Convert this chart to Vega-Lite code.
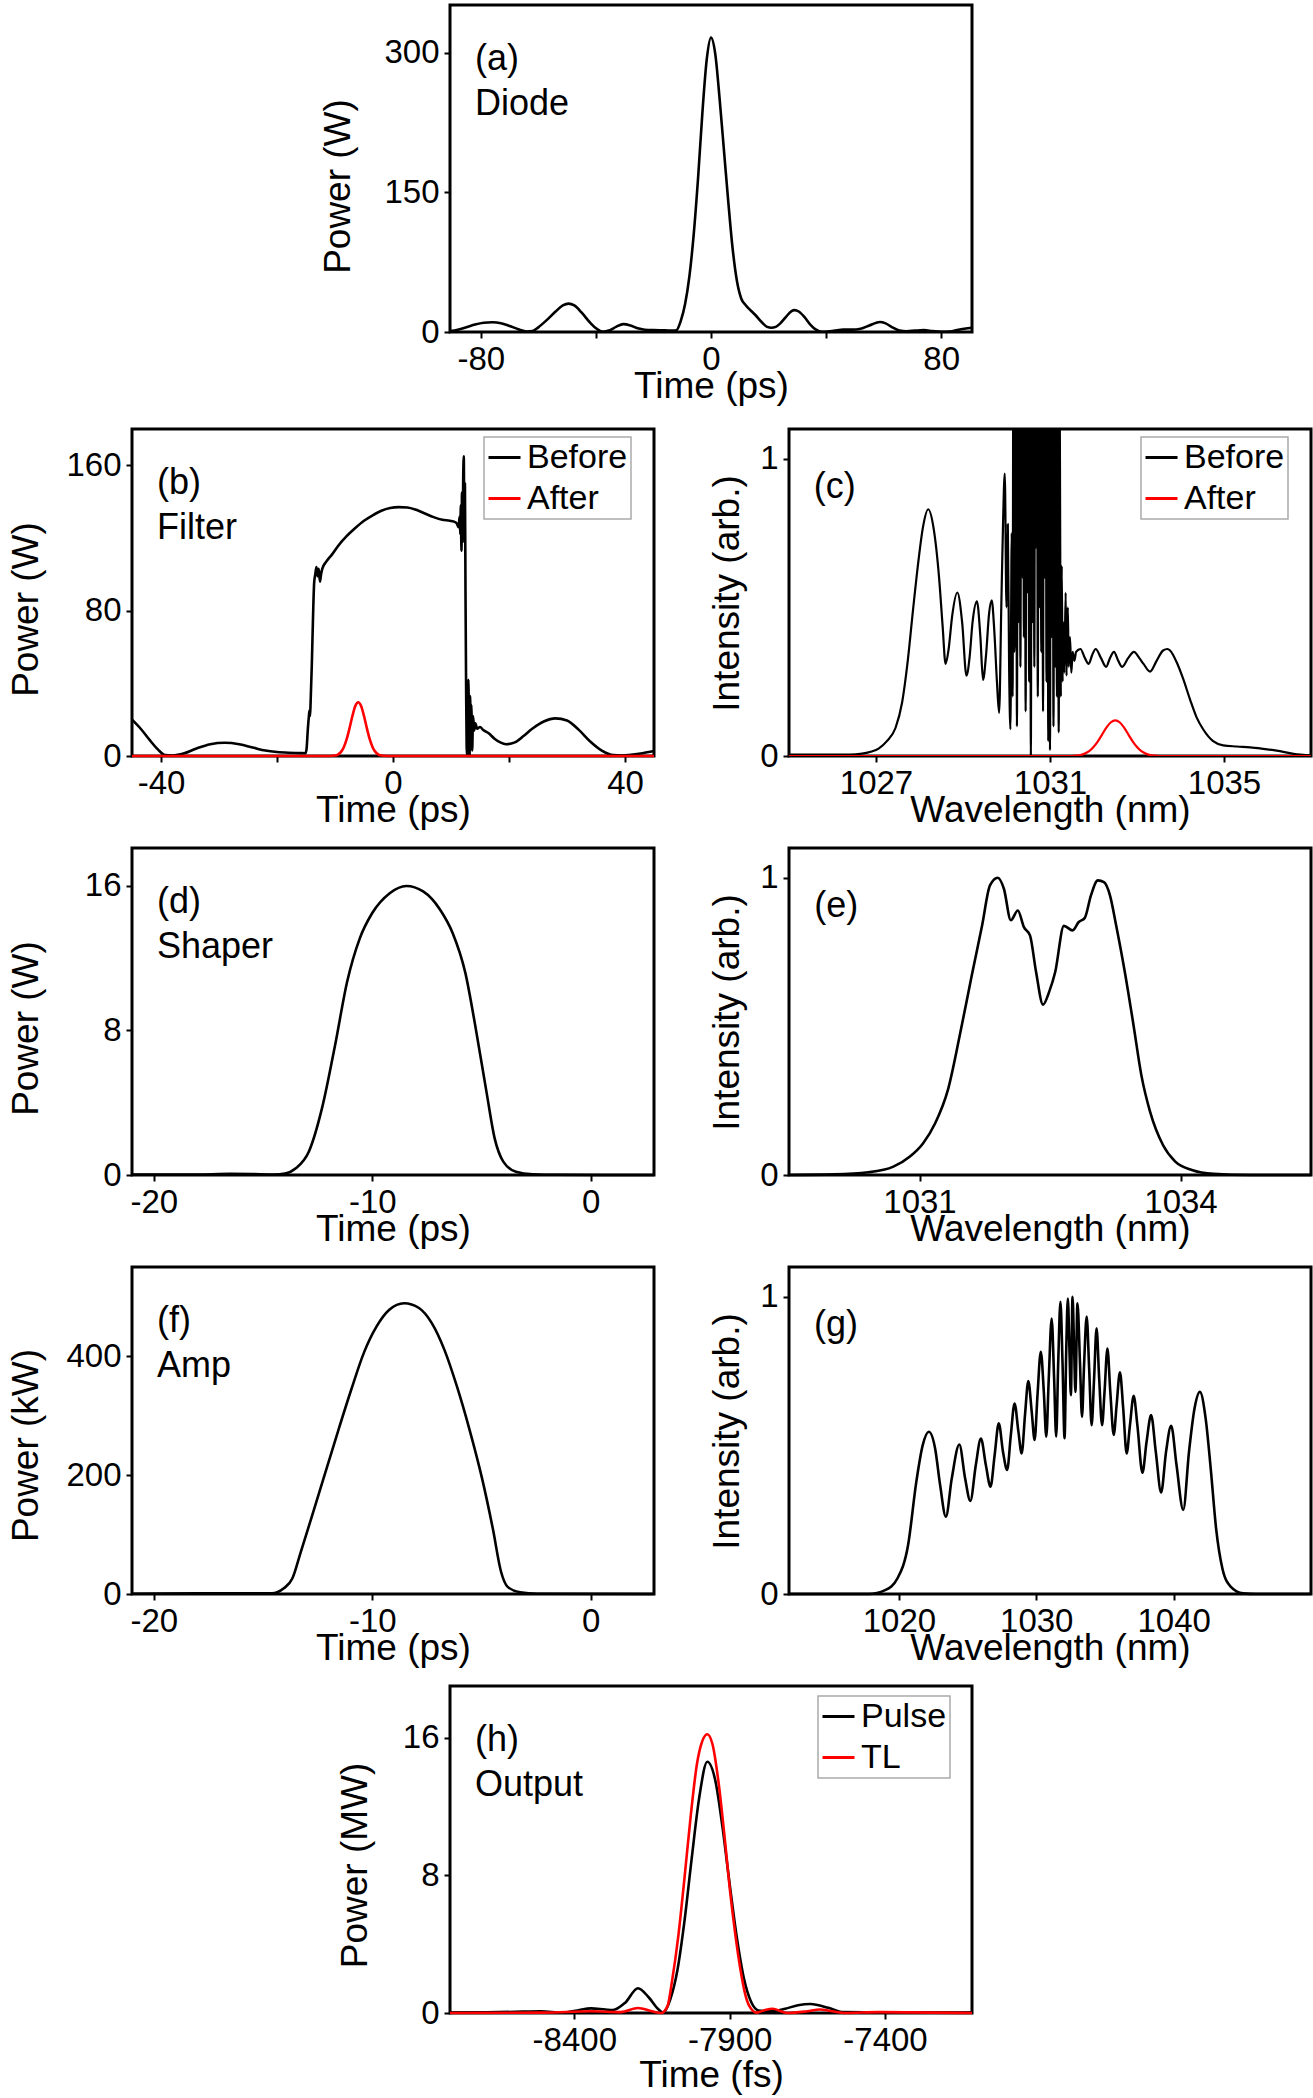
{
  "$schema": "https://vega.github.io/schema/vega-lite/v6.json",
  "background": "white",
  "padding": {"left": 5, "top": 3, "right": 2, "bottom": 0},
  "config": {
    "font": "Liberation Sans",
    "view": {"stroke": "black", "strokeWidth": 3},
    "line": {"strokeJoin": "round"},
    "axis": {
      "grid": false, "domain": false, "tickSize": 6, "tickWidth": 2, "tickColor": "black",
      "labelFont": "Liberation Sans", "labelFontSize": 33, "labelColor": "black",
      "titleFont": "Liberation Sans", "titleFontSize": 37, "titleFontWeight": "normal", "titleColor": "black",
      "labelFlush": false, "labelOverlap": false, "labelBound": false
    },
    "axisX": {"labelPadding": 5, "labelBaseline": "top", "titleBaseline": "top"},
    "axisY": {"labelPadding": 5, "titleAngle": 270, "titleAlign": "center", "titleBaseline": "bottom"},
    "legend": {
      "orient": "none", "symbolType": "stroke", "symbolSize": 1024, "symbolStrokeWidth": 3,
      "labelFont": "Liberation Sans", "labelFontSize": 34, "labelColor": "black", "labelLimit": 0,
      "labelOffset": 5, "symbolOffset": 0, "padding": 3, "rowPadding": 6,
      "strokeColor": "#aaaaaa", "strokeWidth": 1.5, "fillColor": "white"
    }
  },
  "datasets": {
    "diode": [
      {"t": -90.7, "p": 1}, {"t": -88, "p": 2.5}, {"t": -85, "p": 5}, {"t": -82, "p": 8}, {"t": -79, "p": 10},
      {"t": -76, "p": 10.5}, {"t": -73, "p": 9.5}, {"t": -70, "p": 6.5}, {"t": -67, "p": 3}, {"t": -64, "p": 0.5},
      {"t": -62, "p": 1}, {"t": -60, "p": 5}, {"t": -57, "p": 13}, {"t": -54, "p": 22}, {"t": -51.5, "p": 28.5},
      {"t": -49.5, "p": 30.5}, {"t": -47.5, "p": 28.5}, {"t": -45, "p": 21}, {"t": -42, "p": 10}, {"t": -39.5, "p": 3},
      {"t": -37.5, "p": 0.3}, {"t": -35.5, "p": 1.5}, {"t": -33, "p": 5.5}, {"t": -30.5, "p": 8.5}, {"t": -28, "p": 7},
      {"t": -25.5, "p": 4}, {"t": -23, "p": 2.5}, {"t": -20, "p": 2}, {"t": -16, "p": 1.8}, {"t": -13, "p": 1.5},
      {"t": -12, "p": 2}, {"t": -10.5, "p": 12}, {"t": -9, "p": 30}, {"t": -7.5, "p": 60}, {"t": -6, "p": 105},
      {"t": -4.5, "p": 165}, {"t": -3, "p": 235}, {"t": -1.5, "p": 292}, {"t": 0, "p": 316}, {"t": 1.5, "p": 298},
      {"t": 3, "p": 250}, {"t": 4.5, "p": 195}, {"t": 6, "p": 140}, {"t": 7.5, "p": 90}, {"t": 9, "p": 55},
      {"t": 10.5, "p": 36}, {"t": 12, "p": 29}, {"t": 13.5, "p": 24}, {"t": 15.5, "p": 18}, {"t": 17.5, "p": 11},
      {"t": 19.5, "p": 5.5}, {"t": 21, "p": 4.5}, {"t": 22.5, "p": 5.5}, {"t": 24, "p": 9}, {"t": 26, "p": 16},
      {"t": 28, "p": 22.5}, {"t": 29, "p": 23.5}, {"t": 30.5, "p": 22}, {"t": 32.5, "p": 16}, {"t": 34.5, "p": 8},
      {"t": 36.5, "p": 2.5}, {"t": 38.5, "p": 0.3}, {"t": 40.5, "p": 0.5}, {"t": 43, "p": 1.5}, {"t": 46, "p": 2.5},
      {"t": 49, "p": 2.5}, {"t": 52, "p": 3.5}, {"t": 55, "p": 7}, {"t": 57.5, "p": 10}, {"t": 58.7, "p": 10.7},
      {"t": 60.5, "p": 9.5}, {"t": 63, "p": 5}, {"t": 65.5, "p": 1.5}, {"t": 68, "p": 0.8}, {"t": 71, "p": 1.5},
      {"t": 74, "p": 2}, {"t": 77, "p": 1}, {"t": 80, "p": 0.2}, {"t": 83, "p": 0.5}, {"t": 86, "p": 2.5}, {"t": 90.7, "p": 4.5}
    ],
    "filter_time": [
      {"series": "Before", "t": -45, "p": 20}, {"series": "Before", "t": -43.5, "p": 15}, {"series": "Before", "t": -42, "p": 9},
      {"series": "Before", "t": -40.5, "p": 3.5}, {"series": "Before", "t": -39.3, "p": 0.5}, {"series": "Before", "t": -38, "p": 0.3},
      {"series": "Before", "t": -36, "p": 1.5}, {"series": "Before", "t": -34, "p": 4}, {"series": "Before", "t": -31.5, "p": 6.5},
      {"series": "Before", "t": -29, "p": 7.3}, {"series": "Before", "t": -26.5, "p": 6.5}, {"series": "Before", "t": -24, "p": 4.5},
      {"series": "Before", "t": -22, "p": 3}, {"series": "Before", "t": -20, "p": 2.2}, {"series": "Before", "t": -18, "p": 1.8},
      {"series": "Before", "t": -16, "p": 1.6}, {"series": "Before", "t": -15.1, "p": 1.5}, {"series": "Before", "t": -14.9, "p": 4},
      {"series": "Before", "t": -14.7, "p": 14}, {"series": "Before", "t": -14.5, "p": 22}, {"series": "Before", "t": -14.4, "p": 25},
      {"series": "Before", "t": -14.3, "p": 22}, {"series": "Before", "t": -14.2, "p": 30}, {"series": "Before", "t": -14.0, "p": 50},
      {"series": "Before", "t": -13.8, "p": 75}, {"series": "Before", "t": -13.6, "p": 95}, {"series": "Before", "t": -13.4, "p": 100},
      {"series": "Before", "t": -13.2, "p": 104}, {"series": "Before", "t": -13.0, "p": 99}, {"series": "Before", "t": -12.8, "p": 103},
      {"series": "Before", "t": -12.6, "p": 96}, {"series": "Before", "t": -12.4, "p": 100}, {"series": "Before", "t": -12.2, "p": 103},
      {"series": "Before", "t": -11.5, "p": 107}, {"series": "Before", "t": -10.5, "p": 111}, {"series": "Before", "t": -9.5, "p": 115.5},
      {"series": "Before", "t": -8, "p": 121}, {"series": "Before", "t": -6.5, "p": 125.5}, {"series": "Before", "t": -5, "p": 129.5},
      {"series": "Before", "t": -3.5, "p": 132.5}, {"series": "Before", "t": -2, "p": 135}, {"series": "Before", "t": -0.5, "p": 136.5},
      {"series": "Before", "t": 1, "p": 137}, {"series": "Before", "t": 2.5, "p": 136.8}, {"series": "Before", "t": 4, "p": 135.5},
      {"series": "Before", "t": 5.5, "p": 133.5}, {"series": "Before", "t": 7, "p": 131.5}, {"series": "Before", "t": 8.5, "p": 130},
      {"series": "Before", "t": 9.8, "p": 129.5}, {"series": "Before", "t": 10.5, "p": 129}, {"series": "Before", "t": 11.0, "p": 128},
      {"series": "Before", "t": 11.3, "p": 126}, {"series": "Before", "t": 11.5, "p": 132}, {"series": "Before", "t": 11.6, "p": 122},
      {"series": "Before", "t": 11.7, "p": 138}, {"series": "Before", "t": 11.8, "p": 113}, {"series": "Before", "t": 11.9, "p": 145},
      {"series": "Before", "t": 12.0, "p": 118}, {"series": "Before", "t": 12.1, "p": 152}, {"series": "Before", "t": 12.2, "p": 165},
      {"series": "Before", "t": 12.3, "p": 128}, {"series": "Before", "t": 12.4, "p": 150}, {"series": "Before", "t": 12.5, "p": 90},
      {"series": "Before", "t": 12.6, "p": 40}, {"series": "Before", "t": 12.7, "p": 5}, {"series": "Before", "t": 12.8, "p": 0},
      {"series": "Before", "t": 12.9, "p": 18}, {"series": "Before", "t": 13.0, "p": 42}, {"series": "Before", "t": 13.1, "p": 12},
      {"series": "Before", "t": 13.2, "p": 0}, {"series": "Before", "t": 13.3, "p": 33}, {"series": "Before", "t": 13.4, "p": 6},
      {"series": "Before", "t": 13.5, "p": 28}, {"series": "Before", "t": 13.65, "p": 3}, {"series": "Before", "t": 13.8, "p": 22},
      {"series": "Before", "t": 14.0, "p": 14}, {"series": "Before", "t": 14.2, "p": 18}, {"series": "Before", "t": 14.5, "p": 15},
      {"series": "Before", "t": 15.0, "p": 16}, {"series": "Before", "t": 15.5, "p": 14.5}, {"series": "Before", "t": 16.5, "p": 12.5},
      {"series": "Before", "t": 17.5, "p": 9.5}, {"series": "Before", "t": 18.5, "p": 7.5}, {"series": "Before", "t": 19.5, "p": 6.5},
      {"series": "Before", "t": 21, "p": 7.5}, {"series": "Before", "t": 22.5, "p": 11}, {"series": "Before", "t": 24, "p": 15},
      {"series": "Before", "t": 26, "p": 19}, {"series": "Before", "t": 28, "p": 20.7}, {"series": "Before", "t": 30, "p": 19.5},
      {"series": "Before", "t": 32, "p": 14.5}, {"series": "Before", "t": 34, "p": 8}, {"series": "Before", "t": 36, "p": 3},
      {"series": "Before", "t": 38, "p": 0.5}, {"series": "Before", "t": 39.5, "p": 0.3}, {"series": "Before", "t": 41, "p": 0.7},
      {"series": "Before", "t": 43, "p": 1.5}, {"series": "Before", "t": 45, "p": 2.7},
      {"series": "After", "t": -45, "p": 0}, {"series": "After", "t": -11, "p": 0}, {"series": "After", "t": -10, "p": 0.26},
      {"series": "After", "t": -9.5, "p": 0.8}, {"series": "After", "t": -9, "p": 2.1}, {"series": "After", "t": -8.5, "p": 4.7},
      {"series": "After", "t": -8, "p": 9.1}, {"series": "After", "t": -7.5, "p": 15.2}, {"series": "After", "t": -7, "p": 22},
      {"series": "After", "t": -6.5, "p": 27.5}, {"series": "After", "t": -6, "p": 29.6}, {"series": "After", "t": -5.5, "p": 27.5},
      {"series": "After", "t": -5, "p": 22}, {"series": "After", "t": -4.5, "p": 15.2}, {"series": "After", "t": -4, "p": 9.1},
      {"series": "After", "t": -3.5, "p": 4.7}, {"series": "After", "t": -3, "p": 2.1}, {"series": "After", "t": -2.5, "p": 0.8},
      {"series": "After", "t": -2, "p": 0.26}, {"series": "After", "t": -1, "p": 0}, {"series": "After", "t": 45, "p": 0}
    ],
    "filter_spec": [
      {"series": "Before", "wl": 1025, "i": 0.005}, {"series": "Before", "wl": 1025.5, "i": 0.005}, {"series": "Before", "wl": 1026, "i": 0.005},
      {"series": "Before", "wl": 1026.4, "i": 0.005}, {"series": "Before", "wl": 1026.68, "i": 0.008}, {"series": "Before", "wl": 1026.9, "i": 0.015},
      {"series": "Before", "wl": 1027.06, "i": 0.025}, {"series": "Before", "wl": 1027.25, "i": 0.05}, {"series": "Before", "wl": 1027.45, "i": 0.095},
      {"series": "Before", "wl": 1027.6, "i": 0.18}, {"series": "Before", "wl": 1027.73, "i": 0.32}, {"series": "Before", "wl": 1027.85, "i": 0.49},
      {"series": "Before", "wl": 1027.97, "i": 0.65}, {"series": "Before", "wl": 1028.08, "i": 0.77}, {"series": "Before", "wl": 1028.2, "i": 0.83},
      {"series": "Before", "wl": 1028.32, "i": 0.77}, {"series": "Before", "wl": 1028.45, "i": 0.6}, {"series": "Before", "wl": 1028.53, "i": 0.44},
      {"series": "Before", "wl": 1028.6, "i": 0.31}, {"series": "Before", "wl": 1028.67, "i": 0.36}, {"series": "Before", "wl": 1028.75, "i": 0.47},
      {"series": "Before", "wl": 1028.87, "i": 0.55}, {"series": "Before", "wl": 1028.98, "i": 0.45}, {"series": "Before", "wl": 1029.08, "i": 0.27},
      {"series": "Before", "wl": 1029.15, "i": 0.33}, {"series": "Before", "wl": 1029.22, "i": 0.45}, {"series": "Before", "wl": 1029.32, "i": 0.52},
      {"series": "Before", "wl": 1029.4, "i": 0.4}, {"series": "Before", "wl": 1029.46, "i": 0.256}, {"series": "Before", "wl": 1029.53, "i": 0.34},
      {"series": "Before", "wl": 1029.6, "i": 0.48}, {"series": "Before", "wl": 1029.66, "i": 0.524}, {"series": "Before", "wl": 1029.72, "i": 0.42},
      {"series": "Before", "wl": 1029.78, "i": 0.25}, {"series": "Before", "wl": 1029.83, "i": 0.145}, {"series": "Before", "wl": 1029.88, "i": 0.5},
      {"series": "Before", "wl": 1029.92, "i": 0.78}, {"series": "Before", "wl": 1029.96, "i": 0.95}, {"series": "Before", "wl": 1030.0, "i": 0.5},
      {"series": "Before", "wl": 1030.03, "i": 0.78}, {"series": "Before", "wl": 1030.06, "i": 0.3}, {"series": "Before", "wl": 1030.09, "i": 0.09},
      {"series": "Before", "wl": 1030.12, "i": 0.75}, {"series": "Before", "wl": 1030.14, "i": 0.2}, {"series": "Before", "wl": 1030.16, "i": 1.6},
      {"series": "Before", "wl": 1030.18, "i": 0.35}, {"series": "Before", "wl": 1030.2, "i": 0.5}, {"series": "Before", "wl": 1030.22, "i": 1.7},
      {"series": "Before", "wl": 1030.24, "i": 0.1}, {"series": "Before", "wl": 1030.26, "i": 1.5}, {"series": "Before", "wl": 1030.28, "i": 0.45},
      {"series": "Before", "wl": 1030.3, "i": 1.8}, {"series": "Before", "wl": 1030.32, "i": 0.3}, {"series": "Before", "wl": 1030.34, "i": 1.4},
      {"series": "Before", "wl": 1030.36, "i": 0.6}, {"series": "Before", "wl": 1030.38, "i": 1.9}, {"series": "Before", "wl": 1030.4, "i": 0.4},
      {"series": "Before", "wl": 1030.42, "i": 1.6}, {"series": "Before", "wl": 1030.44, "i": 0.15}, {"series": "Before", "wl": 1030.46, "i": 1.7},
      {"series": "Before", "wl": 1030.48, "i": 0.55}, {"series": "Before", "wl": 1030.5, "i": 1.5}, {"series": "Before", "wl": 1030.52, "i": 0.25},
      {"series": "Before", "wl": 1030.54, "i": 1.8}, {"series": "Before", "wl": 1030.56, "i": 0.0}, {"series": "Before", "wl": 1030.58, "i": 1.6},
      {"series": "Before", "wl": 1030.6, "i": 0.45}, {"series": "Before", "wl": 1030.62, "i": 1.7}, {"series": "Before", "wl": 1030.64, "i": 0.3},
      {"series": "Before", "wl": 1030.66, "i": 1.9}, {"series": "Before", "wl": 1030.68, "i": 0.7}, {"series": "Before", "wl": 1030.7, "i": 1.5},
      {"series": "Before", "wl": 1030.72, "i": 0.2}, {"series": "Before", "wl": 1030.74, "i": 1.8}, {"series": "Before", "wl": 1030.76, "i": 0.5},
      {"series": "Before", "wl": 1030.78, "i": 1.6}, {"series": "Before", "wl": 1030.8, "i": 0.35}, {"series": "Before", "wl": 1030.82, "i": 1.7},
      {"series": "Before", "wl": 1030.84, "i": 0.15}, {"series": "Before", "wl": 1030.86, "i": 1.9}, {"series": "Before", "wl": 1030.88, "i": 0.6},
      {"series": "Before", "wl": 1030.9, "i": 1.5}, {"series": "Before", "wl": 1030.92, "i": 0.25}, {"series": "Before", "wl": 1030.94, "i": 1.8},
      {"series": "Before", "wl": 1030.96, "i": 0.05}, {"series": "Before", "wl": 1030.98, "i": 1.6}, {"series": "Before", "wl": 1031.0, "i": 0.02},
      {"series": "Before", "wl": 1031.02, "i": 1.7}, {"series": "Before", "wl": 1031.04, "i": 0.4}, {"series": "Before", "wl": 1031.06, "i": 1.5},
      {"series": "Before", "wl": 1031.08, "i": 0.1}, {"series": "Before", "wl": 1031.1, "i": 1.4}, {"series": "Before", "wl": 1031.12, "i": 0.3},
      {"series": "Before", "wl": 1031.14, "i": 1.3}, {"series": "Before", "wl": 1031.16, "i": 0.2}, {"series": "Before", "wl": 1031.18, "i": 1.3},
      {"series": "Before", "wl": 1031.2, "i": 0.08}, {"series": "Before", "wl": 1031.22, "i": 1.2}, {"series": "Before", "wl": 1031.25, "i": 0.2},
      {"series": "Before", "wl": 1031.27, "i": 0.64}, {"series": "Before", "wl": 1031.29, "i": 0.25}, {"series": "Before", "wl": 1031.31, "i": 0.45},
      {"series": "Before", "wl": 1031.33, "i": 0.28}, {"series": "Before", "wl": 1031.36, "i": 0.55}, {"series": "Before", "wl": 1031.38, "i": 0.27},
      {"series": "Before", "wl": 1031.41, "i": 0.5}, {"series": "Before", "wl": 1031.43, "i": 0.3}, {"series": "Before", "wl": 1031.46, "i": 0.4},
      {"series": "Before", "wl": 1031.49, "i": 0.28}, {"series": "Before", "wl": 1031.52, "i": 0.35}, {"series": "Before", "wl": 1031.56, "i": 0.32},
      {"series": "Before", "wl": 1031.6, "i": 0.35}, {"series": "Before", "wl": 1031.7, "i": 0.36}, {"series": "Before", "wl": 1031.8, "i": 0.33},
      {"series": "Before", "wl": 1031.89, "i": 0.31}, {"series": "Before", "wl": 1031.97, "i": 0.34}, {"series": "Before", "wl": 1032.05, "i": 0.36},
      {"series": "Before", "wl": 1032.17, "i": 0.33}, {"series": "Before", "wl": 1032.29, "i": 0.3}, {"series": "Before", "wl": 1032.38, "i": 0.33},
      {"series": "Before", "wl": 1032.47, "i": 0.35}, {"series": "Before", "wl": 1032.57, "i": 0.32}, {"series": "Before", "wl": 1032.66, "i": 0.3},
      {"series": "Before", "wl": 1032.8, "i": 0.33}, {"series": "Before", "wl": 1032.93, "i": 0.35}, {"series": "Before", "wl": 1033.05, "i": 0.33},
      {"series": "Before", "wl": 1033.15, "i": 0.31}, {"series": "Before", "wl": 1033.3, "i": 0.284}, {"series": "Before", "wl": 1033.45, "i": 0.32},
      {"series": "Before", "wl": 1033.6, "i": 0.355}, {"series": "Before", "wl": 1033.7, "i": 0.36}, {"series": "Before", "wl": 1033.76, "i": 0.355},
      {"series": "Before", "wl": 1033.91, "i": 0.316}, {"series": "Before", "wl": 1034.06, "i": 0.26}, {"series": "Before", "wl": 1034.22, "i": 0.19},
      {"series": "Before", "wl": 1034.37, "i": 0.13}, {"series": "Before", "wl": 1034.52, "i": 0.09}, {"series": "Before", "wl": 1034.75, "i": 0.05},
      {"series": "Before", "wl": 1034.98, "i": 0.036}, {"series": "Before", "wl": 1035.3, "i": 0.032}, {"series": "Before", "wl": 1035.6, "i": 0.029},
      {"series": "Before", "wl": 1035.9, "i": 0.024}, {"series": "Before", "wl": 1036.21, "i": 0.018}, {"series": "Before", "wl": 1036.6, "i": 0.007},
      {"series": "Before", "wl": 1037, "i": 0.002},
      {"series": "After", "wl": 1025, "i": 0}, {"series": "After", "wl": 1031.5, "i": 0}, {"series": "After", "wl": 1031.6, "i": 0.0013},
      {"series": "After", "wl": 1031.7, "i": 0.0034}, {"series": "After", "wl": 1031.8, "i": 0.008}, {"series": "After", "wl": 1031.9, "i": 0.016},
      {"series": "After", "wl": 1032.0, "i": 0.03}, {"series": "After", "wl": 1032.1, "i": 0.049}, {"series": "After", "wl": 1032.2, "i": 0.073},
      {"series": "After", "wl": 1032.3, "i": 0.096}, {"series": "After", "wl": 1032.4, "i": 0.1135}, {"series": "After", "wl": 1032.5, "i": 0.12},
      {"series": "After", "wl": 1032.6, "i": 0.1135}, {"series": "After", "wl": 1032.7, "i": 0.096}, {"series": "After", "wl": 1032.8, "i": 0.073},
      {"series": "After", "wl": 1032.9, "i": 0.049}, {"series": "After", "wl": 1033.0, "i": 0.03}, {"series": "After", "wl": 1033.1, "i": 0.016},
      {"series": "After", "wl": 1033.2, "i": 0.008}, {"series": "After", "wl": 1033.3, "i": 0.0034}, {"series": "After", "wl": 1033.4, "i": 0.0013},
      {"series": "After", "wl": 1033.5, "i": 0}, {"series": "After", "wl": 1037, "i": 0}
    ],
    "shaper_time": [
      {"t": -21, "p": 0.02}, {"t": -18, "p": 0.03}, {"t": -16.5, "p": 0.06}, {"t": -15.5, "p": 0.05}, {"t": -14.5, "p": 0.03},
      {"t": -14, "p": 0.08}, {"t": -13.5, "p": 0.37}, {"t": -12.9, "p": 1.3}, {"t": -12.3, "p": 3.7}, {"t": -11.7, "p": 7.2},
      {"t": -11.15, "p": 10.7}, {"t": -10.57, "p": 13.1}, {"t": -10, "p": 14.5}, {"t": -9.2, "p": 15.6}, {"t": -8.44, "p": 16.0},
      {"t": -7.67, "p": 15.7}, {"t": -6.9, "p": 14.7}, {"t": -6.32, "p": 13.4}, {"t": -5.74, "p": 11.2}, {"t": -5.26, "p": 8.1},
      {"t": -4.77, "p": 4.6}, {"t": -4.39, "p": 2.0}, {"t": -4.0, "p": 0.74}, {"t": -3.42, "p": 0.18}, {"t": -2.65, "p": 0.04},
      {"t": -1.5, "p": 0.01}, {"t": 2.9, "p": 0}
    ],
    "shaper_spec": [
      {"wl": 1029.5, "i": 0}, {"wl": 1030.02, "i": 0.002}, {"wl": 1030.41, "i": 0.009}, {"wl": 1030.7, "i": 0.028}, {"wl": 1030.89, "i": 0.062},
      {"wl": 1031.04, "i": 0.106}, {"wl": 1031.18, "i": 0.174}, {"wl": 1031.33, "i": 0.29}, {"wl": 1031.47, "i": 0.48}, {"wl": 1031.6, "i": 0.67},
      {"wl": 1031.72, "i": 0.84}, {"wl": 1031.81, "i": 0.974}, {"wl": 1031.9, "i": 1.0}, {"wl": 1031.97, "i": 0.963}, {"wl": 1032.05, "i": 0.857},
      {"wl": 1032.13, "i": 0.89}, {"wl": 1032.2, "i": 0.834}, {"wl": 1032.27, "i": 0.806}, {"wl": 1032.34, "i": 0.683}, {"wl": 1032.42, "i": 0.573},
      {"wl": 1032.49, "i": 0.616}, {"wl": 1032.56, "i": 0.683}, {"wl": 1032.66, "i": 0.838}, {"wl": 1032.76, "i": 0.823}, {"wl": 1032.83, "i": 0.851},
      {"wl": 1032.9, "i": 0.865}, {"wl": 1032.97, "i": 0.94}, {"wl": 1033.05, "i": 0.991}, {"wl": 1033.12, "i": 0.985}, {"wl": 1033.19, "i": 0.94},
      {"wl": 1033.26, "i": 0.84}, {"wl": 1033.36, "i": 0.683}, {"wl": 1033.46, "i": 0.504}, {"wl": 1033.55, "i": 0.336}, {"wl": 1033.65, "i": 0.213},
      {"wl": 1033.8, "i": 0.1}, {"wl": 1033.94, "i": 0.045}, {"wl": 1034.13, "i": 0.017}, {"wl": 1034.38, "i": 0.004}, {"wl": 1034.8, "i": 0},
      {"wl": 1035.5, "i": 0}
    ],
    "amp_time": [
      {"t": -21, "p": 0.5}, {"t": -18, "p": 1}, {"t": -16, "p": 1.2}, {"t": -14.6, "p": 1}, {"t": -14.05, "p": 9.5},
      {"t": -13.66, "p": 26}, {"t": -13.27, "p": 71}, {"t": -12.7, "p": 138}, {"t": -12.1, "p": 210}, {"t": -11.54, "p": 277},
      {"t": -10.96, "p": 344}, {"t": -10.38, "p": 406}, {"t": -9.8, "p": 450}, {"t": -9.22, "p": 478}, {"t": -8.54, "p": 489},
      {"t": -7.86, "p": 481}, {"t": -7.28, "p": 456}, {"t": -6.7, "p": 411}, {"t": -6.13, "p": 350}, {"t": -5.55, "p": 277},
      {"t": -4.97, "p": 194}, {"t": -4.48, "p": 110}, {"t": -4.1, "p": 37}, {"t": -3.8, "p": 12}, {"t": -3.23, "p": 3},
      {"t": -2.45, "p": 0.5}, {"t": 2.9, "p": 0}
    ],
    "amp_spec": [
      {"wl": 1012, "i": 0}, {"wl": 1017.8, "i": 0}, {"wl": 1019.0, "i": 0.013}, {"wl": 1019.9, "i": 0.053}, {"wl": 1020.67, "i": 0.165},
      {"wl": 1021.27, "i": 0.378}, {"wl": 1021.73, "i": 0.5}, {"wl": 1022.18, "i": 0.546}, {"wl": 1022.64, "i": 0.489}, {"wl": 1023.0, "i": 0.367},
      {"wl": 1023.42, "i": 0.26}, {"wl": 1023.85, "i": 0.389}, {"wl": 1024.4, "i": 0.503}, {"wl": 1024.82, "i": 0.389}, {"wl": 1025.2, "i": 0.313},
      {"wl": 1025.6, "i": 0.434}, {"wl": 1025.97, "i": 0.523}, {"wl": 1026.33, "i": 0.434}, {"wl": 1026.67, "i": 0.361}, {"wl": 1026.97, "i": 0.467},
      {"wl": 1027.27, "i": 0.574}, {"wl": 1027.58, "i": 0.478}, {"wl": 1027.88, "i": 0.417}, {"wl": 1028.15, "i": 0.535}, {"wl": 1028.42, "i": 0.641},
      {"wl": 1028.7, "i": 0.546}, {"wl": 1028.94, "i": 0.473}, {"wl": 1029.18, "i": 0.602}, {"wl": 1029.42, "i": 0.716}, {"wl": 1029.67, "i": 0.613},
      {"wl": 1029.88, "i": 0.518}, {"wl": 1030.09, "i": 0.669}, {"wl": 1030.33, "i": 0.815}, {"wl": 1030.55, "i": 0.68}, {"wl": 1030.73, "i": 0.529},
      {"wl": 1030.91, "i": 0.725}, {"wl": 1031.12, "i": 0.927}, {"wl": 1031.3, "i": 0.725}, {"wl": 1031.45, "i": 0.529}, {"wl": 1031.6, "i": 0.781},
      {"wl": 1031.76, "i": 0.983}, {"wl": 1031.91, "i": 0.781}, {"wl": 1032.06, "i": 0.524}, {"wl": 1032.18, "i": 0.815}, {"wl": 1032.3, "i": 0.994},
      {"wl": 1032.42, "i": 0.815}, {"wl": 1032.52, "i": 0.669}, {"wl": 1032.64, "i": 1.0}, {"wl": 1032.76, "i": 0.815}, {"wl": 1032.85, "i": 0.68},
      {"wl": 1033.0, "i": 0.978}, {"wl": 1033.18, "i": 0.781}, {"wl": 1033.33, "i": 0.596}, {"wl": 1033.48, "i": 0.77}, {"wl": 1033.67, "i": 0.933},
      {"wl": 1033.85, "i": 0.759}, {"wl": 1034.03, "i": 0.568}, {"wl": 1034.21, "i": 0.725}, {"wl": 1034.39, "i": 0.894}, {"wl": 1034.58, "i": 0.725},
      {"wl": 1034.79, "i": 0.568}, {"wl": 1034.97, "i": 0.68}, {"wl": 1035.18, "i": 0.826}, {"wl": 1035.39, "i": 0.68}, {"wl": 1035.64, "i": 0.535},
      {"wl": 1035.85, "i": 0.636}, {"wl": 1036.09, "i": 0.746}, {"wl": 1036.33, "i": 0.624}, {"wl": 1036.58, "i": 0.473}, {"wl": 1036.82, "i": 0.568},
      {"wl": 1037.09, "i": 0.667}, {"wl": 1037.36, "i": 0.568}, {"wl": 1037.73, "i": 0.408}, {"wl": 1038.03, "i": 0.512}, {"wl": 1038.36, "i": 0.602},
      {"wl": 1038.7, "i": 0.479}, {"wl": 1039.09, "i": 0.342}, {"wl": 1039.45, "i": 0.479}, {"wl": 1039.82, "i": 0.566}, {"wl": 1040.21, "i": 0.434},
      {"wl": 1040.7, "i": 0.283}, {"wl": 1041.12, "i": 0.479}, {"wl": 1041.52, "i": 0.624}, {"wl": 1041.91, "i": 0.68}, {"wl": 1042.33, "i": 0.591},
      {"wl": 1042.7, "i": 0.422}, {"wl": 1043.09, "i": 0.221}, {"wl": 1043.55, "i": 0.086}, {"wl": 1044.15, "i": 0.025}, {"wl": 1045.06, "i": 0.002},
      {"wl": 1046, "i": 0}, {"wl": 1050, "i": 0}
    ],
    "output": [
      {"series": "Pulse", "t": -8800, "p": 0.02}, {"series": "Pulse", "t": -8681, "p": 0.04}, {"series": "Pulse", "t": -8560, "p": 0.08},
      {"series": "Pulse", "t": -8508, "p": 0.1}, {"series": "Pulse", "t": -8438, "p": 0.02}, {"series": "Pulse", "t": -8390, "p": 0.15},
      {"series": "Pulse", "t": -8346, "p": 0.27}, {"series": "Pulse", "t": -8300, "p": 0.2}, {"series": "Pulse", "t": -8276, "p": 0.17},
      {"series": "Pulse", "t": -8236, "p": 0.6}, {"series": "Pulse", "t": -8195, "p": 1.44}, {"series": "Pulse", "t": -8160, "p": 0.9},
      {"series": "Pulse", "t": -8131, "p": 0.25}, {"series": "Pulse", "t": -8114, "p": 0.02}, {"series": "Pulse", "t": -8091, "p": 0.8},
      {"series": "Pulse", "t": -8068, "p": 2.5}, {"series": "Pulse", "t": -8045, "p": 5.4}, {"series": "Pulse", "t": -8022, "p": 9.0},
      {"series": "Pulse", "t": -7998, "p": 12.5}, {"series": "Pulse", "t": -7972, "p": 14.6}, {"series": "Pulse", "t": -7946, "p": 13.5},
      {"series": "Pulse", "t": -7923, "p": 10.8}, {"series": "Pulse", "t": -7900, "p": 7.5}, {"series": "Pulse", "t": -7877, "p": 4.4},
      {"series": "Pulse", "t": -7854, "p": 2.0}, {"series": "Pulse", "t": -7831, "p": 0.65}, {"series": "Pulse", "t": -7807, "p": 0.15},
      {"series": "Pulse", "t": -7767, "p": 0.1}, {"series": "Pulse", "t": -7721, "p": 0.25}, {"series": "Pulse", "t": -7680, "p": 0.45},
      {"series": "Pulse", "t": -7640, "p": 0.52}, {"series": "Pulse", "t": -7582, "p": 0.3}, {"series": "Pulse", "t": -7535, "p": 0.05},
      {"series": "Pulse", "t": -7350, "p": 0.03}, {"series": "Pulse", "t": -7120, "p": 0.02},
      {"series": "TL", "t": -8800, "p": 0}, {"series": "TL", "t": -8500, "p": 0.02}, {"series": "TL", "t": -8346, "p": 0.1},
      {"series": "TL", "t": -8250, "p": 0.05}, {"series": "TL", "t": -8195, "p": 0.29}, {"series": "TL", "t": -8150, "p": 0.1},
      {"series": "TL", "t": -8120, "p": 0}, {"series": "TL", "t": -8100, "p": 0.4}, {"series": "TL", "t": -8085, "p": 1.9},
      {"series": "TL", "t": -8065, "p": 4.5}, {"series": "TL", "t": -8045, "p": 7.9}, {"series": "TL", "t": -8025, "p": 11.5},
      {"series": "TL", "t": -8005, "p": 14.5}, {"series": "TL", "t": -7990, "p": 15.7}, {"series": "TL", "t": -7972, "p": 16.2},
      {"series": "TL", "t": -7955, "p": 15.6}, {"series": "TL", "t": -7935, "p": 13.3}, {"series": "TL", "t": -7915, "p": 10.0},
      {"series": "TL", "t": -7900, "p": 7.3}, {"series": "TL", "t": -7882, "p": 4.6}, {"series": "TL", "t": -7865, "p": 2.5},
      {"series": "TL", "t": -7850, "p": 1.1}, {"series": "TL", "t": -7836, "p": 0.38}, {"series": "TL", "t": -7813, "p": 0.02},
      {"series": "TL", "t": -7790, "p": 0.15}, {"series": "TL", "t": -7761, "p": 0.25}, {"series": "TL", "t": -7735, "p": 0.1},
      {"series": "TL", "t": -7714, "p": 0}, {"series": "TL", "t": -7650, "p": 0.1}, {"series": "TL", "t": -7610, "p": 0.2},
      {"series": "TL", "t": -7570, "p": 0.1}, {"series": "TL", "t": -7530, "p": 0}, {"series": "TL", "t": -7420, "p": 0.05},
      {"series": "TL", "t": -7120, "p": 0}
    ]
  },
  "resolve": {"scale": {"x": "independent", "y": "independent", "color": "independent"}, "legend": {"color": "independent"}},
  "spacing": 16,
  "vconcat": [
    {
      "hconcat": [
        {"width": 318, "height": 406, "view": {"stroke": null}, "data": {"values": []}, "mark": {"type": "point", "opacity": 0}},
        {
          "width": 522, "height": 327,
          "layer": [
            {
              "data": {"name": "diode"},
              "mark": {"type": "line", "color": "black", "strokeWidth": 2.6, "interpolate": "monotone"},
              "encoding": {
                "x": {"field": "t", "type": "quantitative", "scale": {"domain": [-90.7, 90.7], "nice": false, "zero": false},
                      "axis": {"title": "Time (ps)", "values": [-80, -40, 0, 40, 80], "labelExpr": "datum.value % 80 === 0 ? '' + datum.value : ''", "titleY": 36}},
                "y": {"field": "p", "type": "quantitative", "scale": {"domain": [0, 351], "nice": false},
                      "axis": {"title": "Power (W)", "values": [0, 150, 300], "labelExpr": "'' + datum.value", "titleX": -93, "titleY": 181}}
              }
            },
            {
              "data": {"values": [{}]},
              "mark": {"type": "text", "text": ["(a)", "Diode"], "fontSize": 36, "align": "left", "baseline": "alphabetic", "lineHeight": 45, "color": "black"},
              "encoding": {"x": {"datum": -82.0}, "y": {"datum": 281.2}}
            }
          ]
        }
      ],
      "spacing": 0, "bounds": "flush",
      "resolve": {"scale": {"x": "independent", "y": "independent"}}
    },
    {
      "hconcat": [
        {
          "width": 522, "height": 327,
          "layer": [
            {
              "data": {"name": "filter_time"},
              "mark": {"type": "line", "strokeWidth": 2.6, "interpolate": "monotone"},
              "encoding": {
                "x": {"field": "t", "type": "quantitative", "scale": {"domain": [-45, 45], "nice": false, "zero": false},
                      "axis": {"title": "Time (ps)", "values": [-40, -20, 0, 20, 40], "labelExpr": "datum.value % 40 === 0 ? '' + datum.value : ''", "titleY": 36}},
                "y": {"field": "p", "type": "quantitative", "scale": {"domain": [0, 180], "nice": false},
                      "axis": {"title": "Power (W)", "values": [0, 80, 160], "labelExpr": "'' + datum.value", "titleX": -87, "titleY": 180}},
                "color": {"field": "series", "type": "nominal", "scale": {"domain": ["Before", "After"], "range": ["#000000", "#ff0000"]},
                          "legend": {"title": null, "orient": "none", "legendX": 352, "legendY": 8}}
              }
            },
            {
              "data": {"values": [{}]},
              "mark": {"type": "text", "text": ["(b)", "Filter"], "fontSize": 36, "align": "left", "baseline": "alphabetic", "lineHeight": 45, "color": "black"},
              "encoding": {"x": {"datum": -40.69}, "y": {"datum": 144.2}}
            }
          ]
        },
        {
          "width": 522, "height": 327,
          "layer": [
            {
              "data": {"name": "filter_spec"},
              "mark": {"type": "line", "strokeWidth": 2.2, "interpolate": "monotone", "clip": true},
              "encoding": {
                "x": {"field": "wl", "type": "quantitative", "scale": {"domain": [1025, 1037], "nice": false, "zero": false},
                      "axis": {"title": "Wavelength (nm)", "values": [1027, 1031, 1035], "labelExpr": "'' + datum.value", "titleY": 36}},
                "y": {"field": "i", "type": "quantitative", "scale": {"domain": [0, 1.1], "nice": false},
                      "axis": {"title": "Intensity (arb.)", "values": [0, 1], "labelExpr": "'' + datum.value", "titleX": -43, "titleY": 164}},
                "color": {"field": "series", "type": "nominal", "scale": {"domain": ["Before", "After"], "range": ["#000000", "#ff0000"]},
                          "legend": {"title": null, "orient": "none", "legendX": 352, "legendY": 8}}
              }
            },
            {
              "data": {"values": [{}]},
              "mark": {"type": "text", "text": "(c)", "fontSize": 36, "align": "left", "baseline": "alphabetic", "color": "black"},
              "encoding": {"x": {"datum": 1025.57}, "y": {"datum": 0.868}}
            }
          ]
        }
      ],
      "spacing": 135, "bounds": "flush",
      "resolve": {"scale": {"x": "independent", "y": "independent", "color": "independent"}, "legend": {"color": "independent"}}
    },
    {
      "hconcat": [
        {
          "width": 522, "height": 327,
          "layer": [
            {
              "data": {"name": "shaper_time"},
              "mark": {"type": "line", "color": "black", "strokeWidth": 2.6, "interpolate": "monotone"},
              "encoding": {
                "x": {"field": "t", "type": "quantitative", "scale": {"domain": [-21, 2.9], "nice": false, "zero": false},
                      "axis": {"title": "Time (ps)", "values": [-20, -10, 0], "labelExpr": "'' + datum.value", "titleY": 36}},
                "y": {"field": "p", "type": "quantitative", "scale": {"domain": [0, 18.1], "nice": false},
                      "axis": {"title": "Power (W)", "values": [0, 8, 16], "labelExpr": "'' + datum.value", "titleX": -87, "titleY": 180}}
              }
            },
            {
              "data": {"values": [{}]},
              "mark": {"type": "text", "text": ["(d)", "Shaper"], "fontSize": 36, "align": "left", "baseline": "alphabetic", "lineHeight": 45, "color": "black"},
              "encoding": {"x": {"datum": -19.86}, "y": {"datum": 14.5}}
            }
          ]
        },
        {
          "width": 522, "height": 327,
          "layer": [
            {
              "data": {"name": "shaper_spec"},
              "mark": {"type": "line", "color": "black", "strokeWidth": 2.6, "interpolate": "monotone"},
              "encoding": {
                "x": {"field": "wl", "type": "quantitative", "scale": {"domain": [1029.5, 1035.5], "nice": false, "zero": false},
                      "axis": {"title": "Wavelength (nm)", "values": [1031, 1034], "labelExpr": "'' + datum.value", "titleY": 36}},
                "y": {"field": "i", "type": "quantitative", "scale": {"domain": [0, 1.1], "nice": false},
                      "axis": {"title": "Intensity (arb.)", "values": [0, 1], "labelExpr": "'' + datum.value", "titleX": -43, "titleY": 164}}
              }
            },
            {
              "data": {"values": [{}]},
              "mark": {"type": "text", "text": "(e)", "fontSize": 36, "align": "left", "baseline": "alphabetic", "color": "black"},
              "encoding": {"x": {"datum": 1029.79}, "y": {"datum": 0.868}}
            }
          ]
        }
      ],
      "spacing": 135, "bounds": "flush",
      "resolve": {"scale": {"x": "independent", "y": "independent"}}
    },
    {
      "hconcat": [
        {
          "width": 522, "height": 327,
          "layer": [
            {
              "data": {"name": "amp_time"},
              "mark": {"type": "line", "color": "black", "strokeWidth": 2.6, "interpolate": "monotone"},
              "encoding": {
                "x": {"field": "t", "type": "quantitative", "scale": {"domain": [-21, 2.9], "nice": false, "zero": false},
                      "axis": {"title": "Time (ps)", "values": [-20, -10, 0], "labelExpr": "'' + datum.value", "titleY": 36}},
                "y": {"field": "p", "type": "quantitative", "scale": {"domain": [0, 550], "nice": false},
                      "axis": {"title": "Power (kW)", "values": [0, 200, 400], "labelExpr": "'' + datum.value", "titleX": -87, "titleY": 178}}
              }
            },
            {
              "data": {"values": [{}]},
              "mark": {"type": "text", "text": ["(f)", "Amp"], "fontSize": 36, "align": "left", "baseline": "alphabetic", "lineHeight": 45, "color": "black"},
              "encoding": {"x": {"datum": -19.86}, "y": {"datum": 440.7}}
            }
          ]
        },
        {
          "width": 522, "height": 327,
          "layer": [
            {
              "data": {"name": "amp_spec"},
              "mark": {"type": "line", "color": "black", "strokeWidth": 2.6, "interpolate": "monotone"},
              "encoding": {
                "x": {"field": "wl", "type": "quantitative", "scale": {"domain": [1012, 1050], "nice": false, "zero": false},
                      "axis": {"title": "Wavelength (nm)", "values": [1020, 1030, 1040], "labelExpr": "'' + datum.value", "titleY": 36}},
                "y": {"field": "i", "type": "quantitative", "scale": {"domain": [0, 1.1], "nice": false},
                      "axis": {"title": "Intensity (arb.)", "values": [0, 1], "labelExpr": "'' + datum.value", "titleX": -43, "titleY": 164}}
              }
            },
            {
              "data": {"values": [{}]},
              "mark": {"type": "text", "text": "(g)", "fontSize": 36, "align": "left", "baseline": "alphabetic", "color": "black"},
              "encoding": {"x": {"datum": 1013.82}, "y": {"datum": 0.868}}
            }
          ]
        }
      ],
      "spacing": 135, "bounds": "flush",
      "resolve": {"scale": {"x": "independent", "y": "independent"}}
    },
    {
      "hconcat": [
        {"width": 318, "height": 327, "view": {"stroke": null}, "data": {"values": []}, "mark": {"type": "point", "opacity": 0}},
        {
          "width": 522, "height": 327,
          "layer": [
            {
              "data": {"name": "output"},
              "mark": {"type": "line", "strokeWidth": 2.6, "interpolate": "monotone"},
              "encoding": {
                "x": {"field": "t", "type": "quantitative", "scale": {"domain": [-8800, -7120], "nice": false, "zero": false},
                      "axis": {"title": "Time (fs)", "values": [-8400, -7900, -7400], "labelExpr": "'' + datum.value", "titleY": 44}},
                "y": {"field": "p", "type": "quantitative", "scale": {"domain": [0, 19], "nice": false},
                      "axis": {"title": "Power (MW)", "values": [0, 8, 16], "labelExpr": "'' + datum.value", "titleX": -76, "titleY": 179}},
                "color": {"field": "series", "type": "nominal", "scale": {"domain": ["Pulse", "TL"], "range": ["#000000", "#ff0000"]},
                          "legend": {"title": null, "orient": "none", "legendX": 368, "legendY": 10}}
              }
            },
            {
              "data": {"values": [{}]},
              "mark": {"type": "text", "text": ["(h)", "Output"], "fontSize": 36, "align": "left", "baseline": "alphabetic", "lineHeight": 45, "color": "black"},
              "encoding": {"x": {"datum": -8719.5}, "y": {"datum": 15.22}}
            }
          ]
        }
      ],
      "spacing": 0, "bounds": "flush",
      "resolve": {"scale": {"x": "independent", "y": "independent", "color": "independent"}, "legend": {"color": "independent"}}
    }
  ]
}
